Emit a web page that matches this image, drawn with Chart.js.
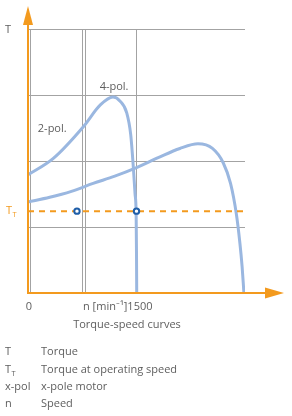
<!DOCTYPE html>
<html>
<head>
<meta charset="utf-8">
<script src="https://cdn.jsdelivr.net/npm/chart.js@4"></script>
<style>
  html, body { margin: 0; padding: 0; background: #fff; }
  canvas { display: block; }
</style>
</head>
<body>
<canvas id="torqueChart" width="292" height="416"></canvas>
<script>
// Curve values (speed in min^-1, torque in grid units)
const speed2 = [0, 300, 600, 900, 1200, 1500, 1800, 2100, 2350, 2550, 2700, 2800, 2880, 2930, 2960, 2985];
const torque2 = [1.38, 1.45, 1.54, 1.66, 1.77, 1.9, 2.05, 2.19, 2.26, 2.19, 1.97, 1.66, 1.2, 0.75, 0.4, 0];
const speed4 = [0, 350, 765, 1000, 1175, 1270, 1365, 1420, 1456, 1480, 1495, 1500, 1503];
const torque4 = [1.79, 2.04, 2.52, 2.85, 2.97, 2.91, 2.73, 2.4, 1.91, 1.5, 1.2, 0.6, 0];

// Operating points on the T_T line
const opSpeeds = [677, 1500];
const opTorque = 1.24;

// Grid positions
const xGrid = [0, 40, 760, 800, 1500];
const yGrid = [0, 1, 2, 3, 4];

const legendKeys = ["T", "TT", "x-pol", "n"];
const legendTexts = ["Torque", "Torque at operating speed", "x-pole motor", "Speed"];

const ORANGE = "#f39a1e";
const CURVE = "#9ab7e0";
const TEXT = "#5e5e5e";
const FONT = "'Open Sans', sans-serif";

function toPoints(xs, ys) {
  return xs.map((x, i) => ({ x: x, y: ys[i] }));
}

// Draws axes arrows and all the labels
const decorPlugin = {
  id: "decor",
  afterDraw(chart) {
    const { ctx, scales: { x, y } } = chart;
    const x0 = x.getPixelForValue(0);
    const y0 = y.getPixelForValue(0);
    ctx.save();

    // axes
    ctx.strokeStyle = ORANGE;
    ctx.fillStyle = ORANGE;
    ctx.lineWidth = 2;
    ctx.beginPath();
    ctx.moveTo(x0, y0 + 1);
    ctx.lineTo(x0, 20);
    ctx.moveTo(x0 - 1, y0);
    ctx.lineTo(270, y0);
    ctx.stroke();
    ctx.beginPath();
    ctx.moveTo(x0, 6);
    ctx.lineTo(x0 - 5, 25);
    ctx.lineTo(x0 + 5, 25);
    ctx.closePath();
    ctx.fill();
    ctx.beginPath();
    ctx.moveTo(284, y0);
    ctx.lineTo(265, y0 - 5.5);
    ctx.lineTo(265, y0 + 5.5);
    ctx.closePath();
    ctx.fill();

    const big = "11px " + FONT;
    const small = "7.5px " + FONT;

    // axis labels
    ctx.textBaseline = "middle";
    ctx.fillStyle = TEXT;
    ctx.font = big;
    ctx.textAlign = "left";
    ctx.fillText("T", 5, y.getPixelForValue(4) + 1);

    const yT = y.getPixelForValue(opTorque);
    ctx.fillStyle = ORANGE;
    ctx.fillText("T", 6, yT);
    ctx.font = small;
    ctx.fillText("T", 12.5, yT + 4);

    ctx.fillStyle = TEXT;
    ctx.font = big;
    ctx.textAlign = "center";
    ctx.fillText("0", x0 + 1, 307);
    ctx.textAlign = "right";
    ctx.fillText("n [min\u207B\u00B9]1500", x.getPixelForValue(1500) + 16, 307);
    ctx.textAlign = "center";
    ctx.fillText("Torque-speed curves", 127, 325);

    // curve labels
    ctx.fillText("4-pol.", x.getPixelForValue(1190), y.getPixelForValue(3.13));
    ctx.fillText("2-pol.", x.getPixelForValue(335), y.getPixelForValue(2.48));

    // legend
    ctx.textAlign = "left";
    const rows = [352, 370, 387, 404];
    legendKeys.forEach((k, i) => {
      ctx.font = big;
      if (k === "TT") {
        ctx.fillText("T", 5, rows[i]);
        ctx.font = small;
        ctx.fillText("T", 11.5, rows[i] + 4);
        ctx.font = big;
      } else {
        ctx.fillText(k, 5, rows[i]);
      }
      ctx.fillText(legendTexts[i], 41, rows[i]);
    });
    ctx.restore();
  }
};

new Chart(document.getElementById("torqueChart"), {
  type: "scatter",
  data: {
    datasets: [
      {
        label: "operating points",
        data: opSpeeds.map(s => ({ x: s, y: opTorque })),
        pointRadius: 2.7,
        pointBorderWidth: 2,
        pointBackgroundColor: "#ffffff",
        pointBorderColor: "#1f5ea8",
        showLine: false
      },
      {
        label: "T_T",
        data: [{ x: 0, y: opTorque }, { x: 3040, y: opTorque }],
        showLine: true,
        borderColor: ORANGE,
        borderWidth: 2,
        borderDash: [6, 5],
        pointRadius: 0,
        clip: false
      },
      {
        label: "4-pol.",
        data: toPoints(speed4, torque4),
        showLine: true,
        borderColor: CURVE,
        borderWidth: 3,
        pointRadius: 0,
        cubicInterpolationMode: "monotone"
      },
      {
        label: "2-pol.",
        data: toPoints(speed2, torque2),
        showLine: true,
        borderColor: CURVE,
        borderWidth: 3,
        pointRadius: 0,
        cubicInterpolationMode: "monotone"
      }
    ]
  },
  options: {
    responsive: false,
    animation: false,
    devicePixelRatio: 1,
    layout: { padding: { left: 28, right: 47, top: 29, bottom: 123 } },
    plugins: { legend: { display: false }, tooltip: { enabled: false } },
    scales: {
      x: {
        type: "linear",
        min: 0,
        max: 3000,
        afterBuildTicks: axis => { axis.ticks = xGrid.map(v => ({ value: v })); },
        ticks: { display: false },
        border: { display: false },
        grid: {
          drawTicks: false,
          color: c => (c.tick && c.tick.value === 0 ? "rgba(0,0,0,0)" : "#a3a3a3"),
          lineWidth: 1
        }
      },
      y: {
        type: "linear",
        min: 0,
        max: 4,
        afterBuildTicks: axis => { axis.ticks = yGrid.map(v => ({ value: v })); },
        ticks: { display: false },
        border: { display: false },
        grid: {
          drawTicks: false,
          color: c => (c.tick && c.tick.value === 0 ? "rgba(0,0,0,0)" : "#a3a3a3"),
          lineWidth: 1
        }
      }
    }
  },
  plugins: [decorPlugin]
});
</script>
</body>
</html>
